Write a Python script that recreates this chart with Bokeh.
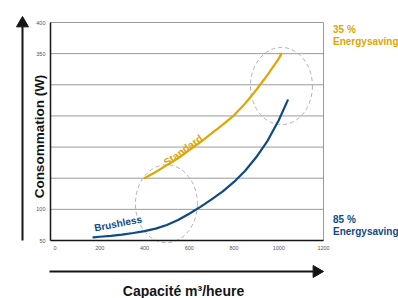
from bokeh.plotting import figure
from bokeh.models import Label, FixedTicker, Range1d
from bokeh.embed import file_html
from bokeh.resources import INLINE

# ---------------- data ----------------
x_ticks = [0, 200, 400, 600, 800, 1000, 1200]
y_ticks = [50, 100, 150, 200, 250, 300, 350, 400]
y_hidden_ticks = [150, 200, 250, 300]

standard_x = [400, 450, 500, 550, 600, 650, 700, 750, 800, 850, 900, 950, 1000, 1012]
standard_y = [150, 160, 171, 182, 195, 208, 222, 236, 251, 270, 292, 316, 342, 350]

brushless_x = [172, 200, 250, 300, 350, 400, 450, 500, 550, 600, 650, 700, 750, 800,
               850, 900, 950, 1000, 1040]
brushless_y = [55, 56, 57.5, 59.5, 62, 65, 69, 75, 83, 93, 104, 116, 129, 144,
               162, 184, 210, 243, 275]

highlight_x = [498, 1012]
highlight_y = [109, 298]
highlight_w = [277, 277]
highlight_h = [125, 124]

GOLD = "#E0A500"
BLUE = "#0E4A84"
INK = "#151515"
GRID = "#9a9a9a"

# ---------------- layout ----------------
W, H = 398, 298
# pixel box of the plotting area inside the canvas
PL, PR, PT, PB = 50, 323, 22, 240
XA, XB = -20, 1200     # data x at PL / PR
YA, YB = 50, 400       # data y at PB / PT
SX = (XB - XA) / (PR - PL)
SY = (YB - YA) / (PB - PT)


def dx(px):
    return XA + (px - PL) * SX


def dy(py):
    return YB - (py - PT) * SY


p = figure(width=W, height=H,
           x_range=Range1d(dx(0), dx(W)), y_range=Range1d(dy(H), dy(0)),
           output_backend="svg", toolbar_location=None, title_location=None,
           min_border=0)
p.background_fill_color = "white"
p.border_fill_color = "white"
p.outline_line_color = None
p.grid.visible = False

# axes pinned to the plotting box
p.yaxis.fixed_location = XA
p.xaxis.fixed_location = YA
p.yaxis.bounds = (YA, YB)
p.xaxis.bounds = (XA, XB)
p.xaxis.ticker = FixedTicker(ticks=x_ticks)
p.yaxis.ticker = FixedTicker(ticks=y_ticks)
p.yaxis.major_label_overrides = {t: "" for t in y_hidden_ticks}
p.axis.major_tick_line_color = None
p.axis.minor_tick_line_color = None
p.axis.major_tick_out = 0
p.axis.major_tick_in = 0
p.axis.major_label_text_font = "Liberation Sans"
p.axis.major_label_text_font_size = "5.5px"
p.axis.major_label_text_color = "#555555"
p.yaxis.major_label_standoff = 5
p.xaxis.major_label_standoff = 5
p.axis.axis_line_color = INK
p.axis.axis_line_width = 1.5

# horizontal grid lines and right border
p.segment(x0=XA, x1=XB, y0=y_ticks, y1=y_ticks, line_color=GRID, line_width=1)
p.segment(x0=XB, x1=XB, y0=YA, y1=YB, line_color=GRID, line_width=1)

# highlight ellipses
p.ellipse(x=highlight_x, y=highlight_y, width=highlight_w, height=highlight_h,
          fill_color=None, line_color="#b0b0b0", line_dash="4 3", line_width=1)

# curves
p.line(standard_x, standard_y, line_color=GOLD, line_width=2.2, line_cap="round")
p.line(brushless_x, brushless_y, line_color=BLUE, line_width=2.2, line_cap="round")

# curve labels
p.add_layout(Label(x=dx(182.5), y=dy(149.5), text="Standard", text_color=GOLD,
                   text_font="Liberation Sans", text_font_style="bold",
                   text_font_size="10.5px", angle=36, angle_units="deg",
                   text_align="center", text_baseline="middle"))
p.add_layout(Label(x=dx(117.5), y=dy(223), text="Brushless", text_color=BLUE,
                   text_font="Liberation Sans", text_font_style="bold",
                   text_font_size="10px", angle=11, angle_units="deg",
                   text_align="center", text_baseline="middle"))

# right side notes (y = vertical centre of the capitals)
for txt, py, col in [("35 %", 28.7, GOLD), ("Energysaving", 40.5, GOLD),
                     ("85 %", 219.0, BLUE), ("Energysaving", 231.0, BLUE)]:
    p.add_layout(Label(x=dx(332.5), y=dy(py), text=txt, text_color=col,
                       text_font="Liberation Sans", text_font_style="bold",
                       text_font_size="10px", text_align="left",
                       text_baseline="middle"))

# axis titles
p.add_layout(Label(x=dx(38.5), y=dy(136), text="Consommation (W)", text_color=INK,
                   text_font="Liberation Sans", text_font_style="bold",
                   text_font_size="13.5px", angle=90, angle_units="deg",
                   text_align="center", text_baseline="middle"))
p.add_layout(Label(x=dx(183), y=dy(290.3), text="Capacité m³/heure", text_color=INK,
                   text_font="Liberation Sans", text_font_style="bold",
                   text_font_size="14px", text_align="center",
                   text_baseline="middle"))

# arrows (shaft + head)
p.segment(x0=dx(22), x1=dx(22), y0=dy(240), y1=dy(26), line_color=INK, line_width=2)
p.scatter(x=dx(22), y=dy(22.9), marker="triangle", size=12,
          fill_color=INK, line_color=INK)
p.segment(x0=dx(49), x1=dx(313), y0=dy(271), y1=dy(271), line_color=INK, line_width=2)
p.scatter(x=dx(316.1), y=dy(271), marker="triangle", size=12, angle=-90,
          angle_units="deg", fill_color=INK, line_color=INK)

open("out.html", "w").write(file_html(p, INLINE))
